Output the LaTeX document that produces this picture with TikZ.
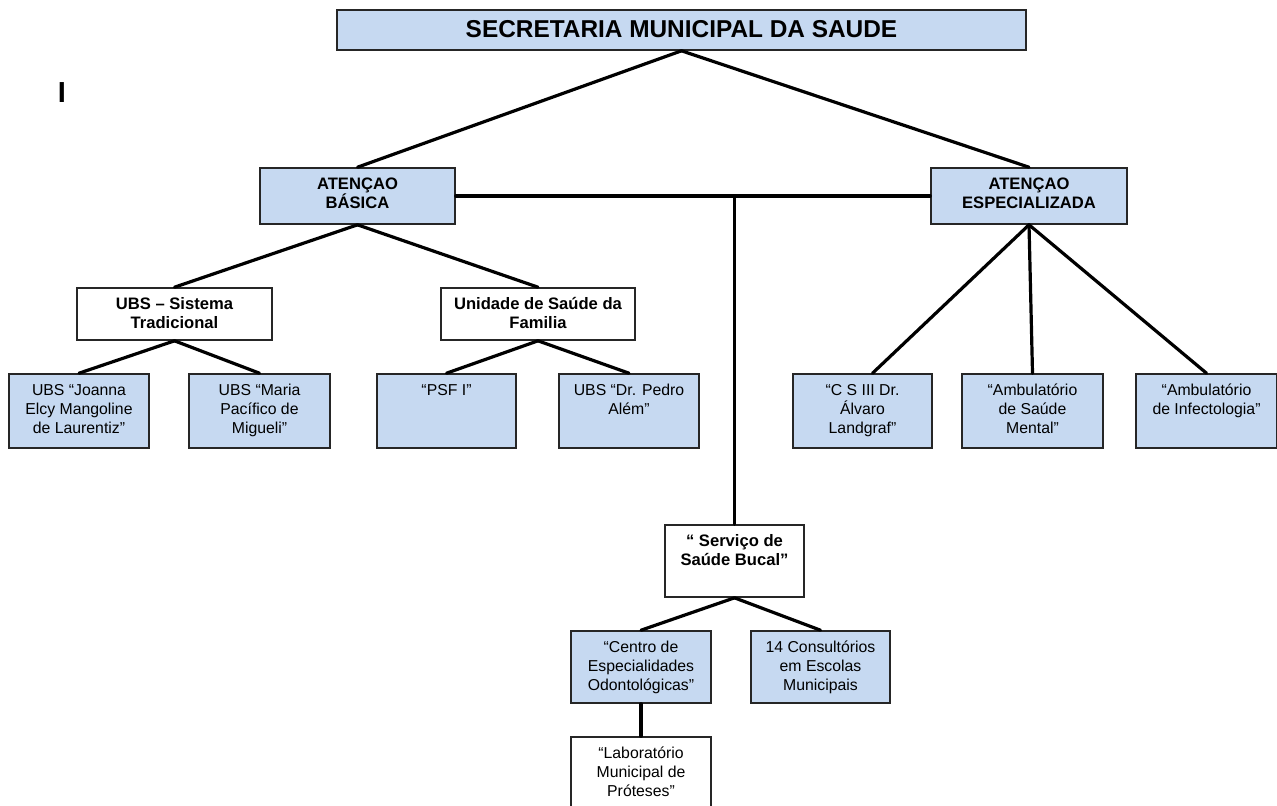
\documentclass[tikz,border=0pt]{standalone}
\usepackage{fontspec}
\setmainfont{Liberation Sans}
\usetikzlibrary{calc}

\definecolor{boxblue}{RGB}{198,217,241}
\definecolor{boxline}{RGB}{38,38,38}

% text of a box, set from its top
\newcommand{\orgtext}[3]{\parbox[c][#2][t]{#1}{\centering\rule{0pt}{10.5pt}#3}}

\begin{document}
\begin{tikzpicture}[x=0.5pt,y=-0.5pt,
    bluebox/.style={draw=boxline, line width=0.8pt, fill=boxblue, inner sep=0pt,
        font=\fontsize{7.9}{9.65}\selectfont},
    whitebox/.style={bluebox, fill=white},
    headbox/.style={bluebox, font=\bfseries\fontsize{8.3}{9.65}\selectfont},
    link/.style={line width=1.6pt, line cap=round}]

    \useasboundingbox (0,0) rectangle (1277,805);

    % Draw the top box
    \node[headbox, minimum width=344.5pt, minimum height=20pt, text depth=1.2pt,
        font=\bfseries\fontsize{12.2}{14}\selectfont] (sms) at (681.5,30) {SECRETARIA MUNICIPAL DA SAUDE};
    \node[font=\bfseries\fontsize{14.5}{16}\selectfont, inner sep=0pt] (mark) at (62,92.5) {I};

    % Draw the two branches
    \node[headbox] (basica) at (357.5,196) {\orgtext{97.5pt}{28pt}{ATENÇAO\\BÁSICA}};
    \node[headbox] (espec) at (1029,196) {\orgtext{98pt}{28pt}{ATENÇAO\\ESPECIALIZADA}};

    % Draw the units of the basic care
    \node[headbox, fill=white] (ubsst) at (174.5,314) {\orgtext{97.5pt}{26pt}{UBS – Sistema\\Tradicional}};
    \node[headbox, fill=white] (usf) at (538,314) {\orgtext{97pt}{26pt}{Unidade de Saúde da\\Familia}};

    \node[bluebox] (joanna) at (79,411) {\orgtext{70pt}{37pt}{UBS “Joanna\\Elcy Mangoline\\de Laurentiz”}};
    \node[bluebox] (maria) at (259.5,411) {\orgtext{70.5pt}{37pt}{UBS “Maria\\Pacífico de\\Migueli”}};
    \node[bluebox] (psf) at (446.5,411) {\orgtext{69.5pt}{37pt}{“PSF I”}};
    \node[bluebox] (pedro) at (629,411) {\orgtext{70pt}{37pt}{UBS “Dr. Pedro\\Além”}};

    % Draw the units of the specialized care
    \node[bluebox] (csiii) at (862.5,411) {\orgtext{69.5pt}{37pt}{“C S III Dr.\\Álvaro\\Landgraf”}};
    \node[bluebox] (mental) at (1032.5,411) {\orgtext{70.5pt}{37pt}{“Ambulatório\\de Saúde\\Mental”}};
    \node[bluebox] (infect) at (1206.5,411) {\orgtext{70.5pt}{37pt}{“Ambulatório\\de Infectologia”}};

    % Draw the oral health service
    \node[headbox, fill=white] (bucal) at (734.5,561) {\orgtext{69.5pt}{36pt}{“ Serviço de\\Saúde Bucal”}};
    \node[bluebox] (centro) at (641,667) {\orgtext{70pt}{36pt}{“Centro de\\Especialidades\\Odontológicas”}};
    \node[bluebox] (escolas) at (820.5,667) {\orgtext{69.5pt}{36pt}{14 Consultórios\\em Escolas\\Municipais}};
    \node[whitebox] (protese) at (641,773.5) {\orgtext{70pt}{36.5pt}{“Laboratório\\Municipal de\\Próteses”}};

    % Connect the boxes
    \draw[link] (sms.south) -- (basica.north);
    \draw[link] (sms.south) -- (espec.north);
    \draw[link] (basica.east) -- (espec.west);
    \draw[link] (bucal.north) -- (bucal.north |- basica.east);

    \draw[link] (basica.south) -- (ubsst.north);
    \draw[link] (basica.south) -- (usf.north);
    \draw[link] (ubsst.south) -- (joanna.north);
    \draw[link] (ubsst.south) -- (maria.north);
    \draw[link] (usf.south) -- (psf.north);
    \draw[link] (usf.south) -- (pedro.north);

    \draw[link] (espec.south) -- ($(csiii.north)+(10,0)$);
    \draw[link] (espec.south) -- (mental.north);
    \draw[link] (espec.south) -- (infect.north);

    \draw[link] (bucal.south) -- (centro.north);
    \draw[link] (bucal.south) -- (escolas.north);
    \draw[link] (centro.south) -- (protese.north);

\end{tikzpicture}
\end{document}
